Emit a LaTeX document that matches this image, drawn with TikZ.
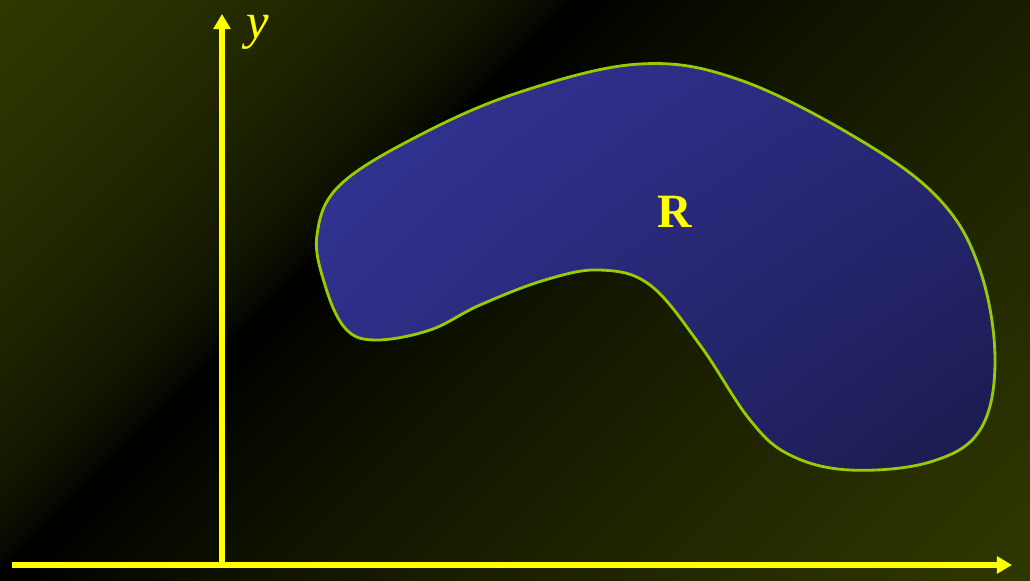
\documentclass[tikz,border=0pt]{standalone}
\usepackage{fontspec}
\setmainfont{Liberation Serif}
\usetikzlibrary{arrows.meta,shadings}

\definecolor{olivebg}{RGB}{48,56,0}
\definecolor{axiscol}{RGB}{255,255,0}
\definecolor{rimcol}{RGB}{153,204,0}
\definecolor{blobtl}{RGB}{52,52,152}
\definecolor{blobtr}{RGB}{40,40,120}
\definecolor{blobbl}{RGB}{44,44,130}
\definecolor{blobbr}{RGB}{26,26,76}

\begin{document}
\begin{tikzpicture}[x=0.025cm,y=-0.025cm,
    axis/.style={draw=axiscol,line width=3.6pt,-{Triangle[length=0.38cm,width=0.42cm]}},
    lbl/.style={text=axiscol,font=\fontsize{34}{38}\selectfont},
    region/.style={draw=rimcol,line width=2pt,
        upper left=blobtl,upper right=blobtr,lower left=blobbl,lower right=blobbr}]
% background: olive -> black band -> olive, along the diagonal
\useasboundingbox (0,0) rectangle (1030,580);
\begin{scope}
\clip (0,0) rectangle (1030,580);
\foreach \s in {0,8,...,1616}{
    \pgfmathsetmacro\a{max(0.0001,(565-\s)/565)}
    \pgfmathsetmacro\b{max(0.0001,(\s-600)/1010)}
    \pgfmathsetmacro\p{min(100,max(100*\a^0.5,100*\b^0.75))}
    \fill[olivebg!\p!black] (\s,0) -- ({\s+9},0) -- ({\s+9-600},600) -- ({\s-600},600) -- cycle;
}
\end{scope}
% the region R
\shade[region] plot[smooth cycle,tension=0.62] coordinates {
    (340,185) (420,135) (520,92) (640,64) (740,80) (860,140) (940,200)
    (980,270) (995,360) (980,430) (930,462) (850,470) (790,455) (750,420)
    (700,345) (650,285) (600,270) (545,280) (480,305) (430,330) (375,340)
    (345,328) (325,285) (317,235)};
\node[lbl,font=\fontsize{34}{38}\selectfont\bfseries] (r) at (675,212) {R};
% axes
\coordinate (o) at (222,565);
\coordinate (ytip) at (222,14);
\coordinate (xstart) at (12,565);
\coordinate (xtip) at (1012,565);
\draw[axis] (o) -- (ytip);
\draw[axis] (xstart) -- (xtip);
\node[lbl,font=\fontsize{36}{40}\selectfont\itshape] (y) at (258,32) {y};
\node[lbl,font=\fontsize{36}{40}\selectfont\itshape] (x) at (1043,552) {x};
\end{tikzpicture}
\end{document}
